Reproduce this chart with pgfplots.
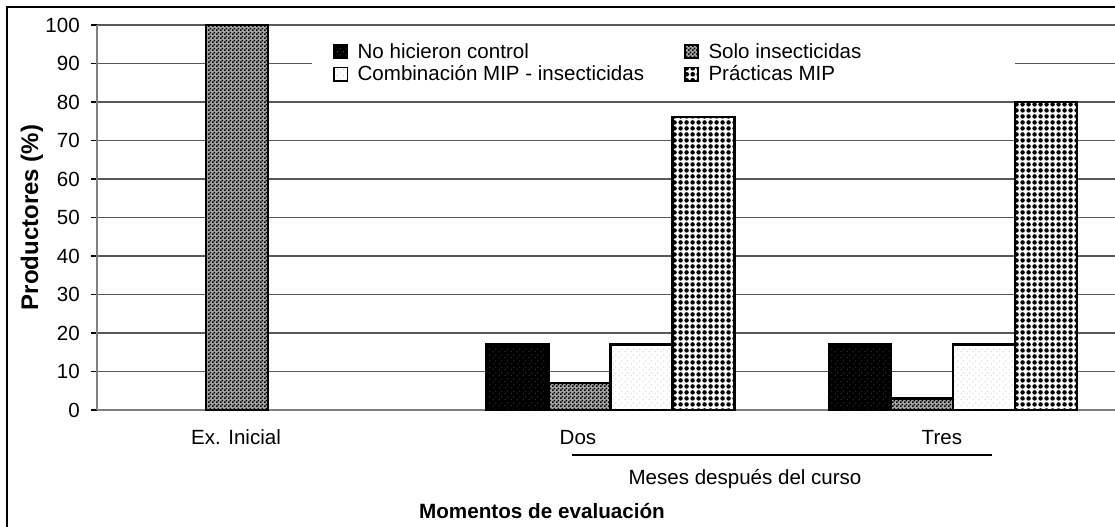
\documentclass[border=0pt]{standalone}
\usepackage{fontspec}
\setmainfont{Liberation Sans}
\usepackage{pgfplots}
\pgfplotsset{compat=1.18}
\usetikzlibrary{patterns}

\pgfdeclarepatternformonly{bigdots}{\pgfqpoint{0pt}{0pt}}{\pgfqpoint{4.5pt}{4.5pt}}{\pgfqpoint{4.5pt}{4.5pt}}{%
  \pgfpathcircle{\pgfqpoint{2.25pt}{2.25pt}}{1.95pt}\pgfusepath{fill}}
\pgfdeclarepatternformonly{sparsedots}{\pgfqpoint{0pt}{0pt}}{\pgfqpoint{4.5pt}{4.5pt}}{\pgfqpoint{4.5pt}{4.5pt}}{%
  \pgfpathcircle{\pgfqpoint{1.1pt}{1.1pt}}{0.4pt}\pgfusepath{fill}%
  \pgfpathcircle{\pgfqpoint{3.35pt}{3.35pt}}{0.4pt}\pgfusepath{fill}}
\pgfdeclarepatternformonly{finecheck}{\pgfqpoint{0pt}{0pt}}{\pgfqpoint{3pt}{3pt}}{\pgfqpoint{3pt}{3pt}}{%
  \pgfpathrectangle{\pgfqpoint{0pt}{0pt}}{\pgfqpoint{1.5pt}{1.5pt}}\pgfusepath{fill}%
  \pgfpathrectangle{\pgfqpoint{1.5pt}{1.5pt}}{\pgfqpoint{1.5pt}{1.5pt}}\pgfusepath{fill}}

\pgfplotstableread{
x y
1 17
2 17
}\nohicieron
\pgfplotstableread{
x y
0 100
1 7
2 3
}\solo
\pgfplotstableread{
x y
1 17
2 17
}\combinacion
\pgfplotstableread{
x y
1 76
2 80
}\practicas

\begin{document}
\begin{tikzpicture}
\useasboundingbox (0,0) rectangle (836.25pt,395.25pt);
\draw[line width=1pt] (5.25pt,-10pt) -- (5.25pt,390pt) -- (850pt,390pt);
\begin{axis}[
  at={(72.75pt,87.75pt)}, anchor=south west,
  scale only axis, width=770.25pt, height=288.75pt,
  xmin=-0.5, xmax=2.5, ymin=0, ymax=100,
  ytick={0,10,...,100},
  xtick={-0.094,0.905,1.968}, xticklabels={Ex. Inicial,Dos,Tres},
  axis x line*=bottom, axis y line*=left,
  axis line style={-, black!50, line width=1.1pt},
  ymajorgrids, grid style={black!65, line width=0.8pt},
  tick align=outside, major tick length=4.5pt,
  ytick style={black, line width=0.8pt},
  major x tick style={opacity=0},
  /pgf/number format/assume math mode=true,
  ticklabel style={font=\fontsize{15.4}{18}\selectfont},
  yticklabel style={anchor=east, inner sep=0pt, xshift=-8.25pt},
  xticklabel style={anchor=base, inner sep=0pt, yshift=-21.75pt},
  ylabel={Productores (\%)},
  ylabel style={font=\fontsize{18}{21}\selectfont\bfseries, at={(axis description cs:-0.0633,0.50)}, anchor=center},
  xlabel={Momentos de evaluación},
  xlabel style={font=\fontsize{15.5}{18}\selectfont\bfseries, at={(axis description cs:0.4333,-0.2831)}, anchor=base},
  clip=false,
  ybar, bar width=0.1811,
  legend columns=2,
  legend style={at={(axis description cs:0.2298,0.9525)}, anchor=north west,
     draw=none, fill=none, inner sep=0pt,
     font=\fontsize{15.4}{18}\selectfont,
     nodes={inner sep=0pt, text height=11pt, text depth=4pt},
     row sep=1.9pt,
     cells={anchor=west},
     /tikz/every odd column/.append style={column sep=7pt},
     /tikz/every even column/.append style={column sep=30pt}},
  legend image code/.code={\draw[#1, draw=black, line width=1.3pt] (0pt,-3.5pt) rectangle (10pt,6.5pt);},
]
\fill[white] (rel axis cs:0.2093,0.836) rectangle (rel axis cs:0.8939,0.974);
% filled bars
\addplot[bar shift=-0.2717, draw=none, preaction={fill=black}, pattern=sparsedots, pattern color=black!45]
  table {\nohicieron};
\addplot[bar shift=-0.0906, draw=none, preaction={fill=black!35}, pattern=finecheck, pattern color=black]
  table {\solo};
\addplot[bar shift=0.0906, draw=none, preaction={fill=white}, pattern=sparsedots, pattern color=black!45]
  table {\combinacion};
\addplot[bar shift=0.2717, draw=none, preaction={fill=white}, pattern=bigdots, pattern color=black]
  table {\practicas};
\legend{No hicieron control, Solo insecticidas, Combinación MIP - insecticidas, Prácticas MIP}
% bar outlines
\addplot[forget plot, bar shift=-0.2717, draw=black, fill=none, line width=1.6pt] table {\nohicieron};
\addplot[forget plot, bar shift=-0.0906, draw=black, fill=none, line width=1.6pt] table {\solo};
\addplot[forget plot, bar shift=0.0906, draw=black, fill=none, line width=1.6pt] table {\combinacion};
\addplot[forget plot, bar shift=0.2717, draw=black, fill=none, line width=1.6pt] table {\practicas};
\draw[line width=1.1pt] (axis cs:0.8875,-11.7) -- (axis cs:2.114,-11.7);
\node[anchor=base, font=\fontsize{15.4}{18}\selectfont] at (axis cs:1.393,-19.4) {Meses después del curso};
\end{axis}
\end{tikzpicture}
\end{document}
